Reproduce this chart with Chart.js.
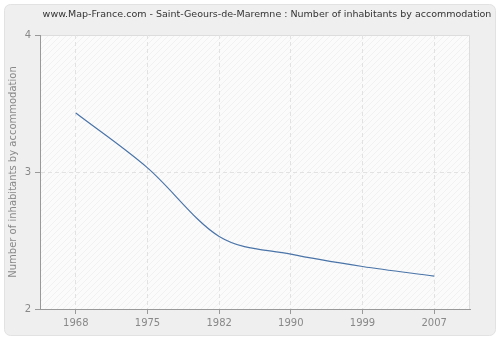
<!DOCTYPE html>
<html>
<head>
<meta charset="utf-8">
<script src="https://cdn.jsdelivr.net/npm/chart.js@4/dist/chart.umd.min.js"></script>
<style>
  html, body { margin: 0; padding: 0; background: #ffffff; }
  #wrap { width: 500px; height: 340px; }
</style>
</head>
<body>
<div id="wrap"><canvas id="habChart" width="500" height="340"></canvas></div>
<script>
// Nombre d'habitants par logement
const years = ['1968', '1975', '1982', '1990', '1999', '2007'];
const inhabitants = [3.43, 3.03, 2.53, 2.40, 2.31, 2.24];
const yTicks = [2, 3, 4];

const titleText = 'www.Map-France.com - Saint-Geours-de-Maremne : Number of inhabitants by accommodation';

// hachures légères pour le fond du graphique
function hatchPattern(ctx) {
    const c = document.createElement('canvas');
    c.width = 6; c.height = 6;
    const p = c.getContext('2d');
    p.fillStyle = '#fbfbfb';
    p.fillRect(0, 0, 6, 6);
    p.strokeStyle = '#f1f1f1';
    p.lineWidth = 1;
    p.beginPath();
    p.moveTo(0, 6); p.lineTo(6, 0);
    p.moveTo(-1, 1); p.lineTo(1, -1);
    p.moveTo(5, 7); p.lineTo(7, 5);
    p.stroke();
    return ctx.createPattern(c, 'repeat');
}

const background = {
    id: 'background',
    beforeDraw(chart) {
        const ctx = chart.ctx;
        const a = chart.chartArea;
        ctx.save();
        ctx.fillStyle = '#ffffff';
        ctx.fillRect(0, 0, chart.width, chart.height);
        ctx.beginPath();
        ctx.roundRect(4.5, 4.5, chart.width - 9, chart.height - 9, 6);
        ctx.fillStyle = '#efefef';
        ctx.fill();
        ctx.strokeStyle = '#e2e2e2';
        ctx.stroke();
        ctx.fillStyle = hatchPattern(ctx);
        ctx.fillRect(a.left, a.top, a.right - a.left, a.bottom - a.top);
        ctx.strokeStyle = '#dddddd';
        ctx.lineWidth = 1;
        ctx.beginPath();
        ctx.moveTo(a.left, a.top + 0.5);
        ctx.lineTo(a.right - 0.5, a.top + 0.5);
        ctx.lineTo(a.right - 0.5, a.bottom);
        ctx.stroke();
        // titre
        ctx.fillStyle = '#333333';
        ctx.font = '9.5px "DejaVu Sans"';
        ctx.textAlign = 'center';
        ctx.textBaseline = 'middle';
        ctx.fillText(titleText, 267, 15);
        ctx.restore();
    }
};

new Chart(document.getElementById('habChart').getContext('2d'), {
    type: 'line',
    data: {
        labels: years,
        datasets: [{
            data: inhabitants,
            borderColor: '#4a74a8',
            borderWidth: 1.2,
            cubicInterpolationMode: 'monotone',
            pointRadius: 0,
            fill: false
        }]
    },
    options: {
        responsive: false,
        animation: false,
        layout: { padding: { top: 35, right: 30, bottom: 0, left: 0 } },
        plugins: {
            legend: { display: false },
            tooltip: { enabled: false }
        },
        scales: {
            x: {
                offset: true,
                border: { color: '#999999', dash: [4, 3] },
                grid: {
                    offset: false,
                    color: '#e2e2e2',
                    tickColor: '#999999',
                    tickBorderDash: [],
                    tickLength: 5
                },
                ticks: { color: '#888888', font: { family: 'DejaVu Sans', size: 10 }, padding: 3 },
                afterFit(s) { s.height = 31; }
            },
            y: {
                min: 2,
                max: 4,
                afterBuildTicks(s) { s.ticks = yTicks.map(v => ({ value: v })); },
                border: { color: '#999999', dash: [4, 3] },
                grid: {
                    color: (c) => (c.tick && c.tick.value === 3 ? '#e2e2e2' : 'rgba(0,0,0,0)'),
                    tickColor: '#999999',
                    tickBorderDash: [],
                    tickLength: 5
                },
                ticks: { color: '#888888', font: { family: 'DejaVu Sans', size: 10 }, padding: 4 },
                title: {
                    display: true,
                    text: 'Number of inhabitants by accommodation',
                    color: '#888888',
                    font: { family: 'DejaVu Sans', size: 10 },
                    padding: { top: 7, bottom: 0 }
                },
                afterFit(s) { s.width = 40; }
            }
        }
    },
    plugins: [background]
});
</script>
</body>
</html>
